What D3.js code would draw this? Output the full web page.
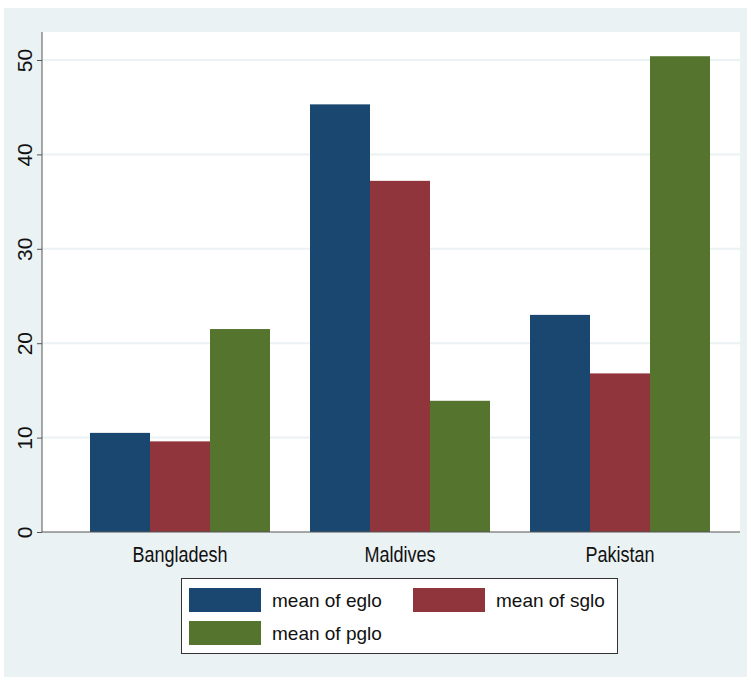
<!DOCTYPE html>
<html>
<head>
<meta charset="utf-8">
<script src="https://cdn.jsdelivr.net/npm/d3@7"></script>
<style>
  body { margin: 0; background: #fff; }
  text { font-family: "Liberation Sans", Arial, sans-serif; fill: #111; }
</style>
</head>
<body>
<svg id="chart"></svg>
<script>
// chart data
const countries = ["Bangladesh", "Maldives", "Pakistan"]
const seriesKeys = ["eglo", "sglo", "pglo"]
const seriesLabels = ["mean of eglo", "mean of sglo", "mean of pglo"]
const egloValues = [10.5, 45.3, 23.0]
const sgloValues = [9.6, 37.2, 16.8]
const pgloValues = [21.5, 13.9, 50.4]
const yTicks = [0, 10, 20, 30, 40, 50]

const colors = ["#1a476f", "#90353b", "#55752f"]

const rows = countries.map((c, i) => ({
    country: c,
    eglo: egloValues[i],
    sglo: sgloValues[i],
    pglo: pgloValues[i]
}))

const width = 751, height = 680
const plot = { left: 42, right: 740, top: 32, bottom: 532 }

const svg = d3.select('#chart')
    .attr('width', width)
    .attr('height', height)

// outer graph region
svg.append('rect')
    .attr('x', 4).attr('y', 8)
    .attr('width', 743).attr('height', 669)
    .attr('fill', '#eaf2f3')

// plot region
svg.append('rect')
    .attr('x', plot.left).attr('y', plot.top)
    .attr('width', plot.right - plot.left).attr('height', plot.bottom - plot.top)
    .attr('fill', '#fff')

const xScale = d3.scaleBand()
    .domain(countries)
    .range([70, 730])
    .paddingInner(40 / 220)
    .paddingOuter(20 / 220)

const xSub = d3.scaleBand()
    .domain(seriesKeys)
    .range([0, xScale.bandwidth()])

const yScale = d3.scaleLinear()
    .domain([0, 50])
    .range([plot.bottom, 60])

// gridlines
svg.append('g')
    .selectAll('line')
    .data(yTicks.filter(d => d > 0))
    .join('line')
        .attr('x1', plot.left).attr('x2', plot.right)
        .attr('y1', d => yScale(d)).attr('y2', d => yScale(d))
        .attr('stroke', '#eaf2f3')
        .attr('stroke-width', 2)

// bars
svg.append('g')
    .selectAll('g')
    .data(rows)
    .join('g')
        .attr('transform', d => `translate(${xScale(d.country)},0)`)
    .selectAll('rect')
    .data(d => seriesKeys.map((k, i) => ({ key: k, value: d[k], i: i })))
    .join('rect')
        .attr('x', d => xSub(d.key))
        .attr('width', xSub.bandwidth())
        .attr('y', d => yScale(d.value))
        .attr('height', d => yScale(0) - yScale(d.value))
        .attr('fill', d => colors[d.i])

// y axis
const yAxis = d3.axisLeft(yScale)
    .tickValues(yTicks)
    .tickSize(5)

const yAxisGroup = svg.append('g')
    .attr('transform', `translate(${plot.left},0)`)
    .call(yAxis)

yAxisGroup.select('.domain')
    .attr('d', `M0,${plot.top}V${plot.bottom}`)
    .attr('stroke', '#555')

yAxisGroup.selectAll('.tick line').attr('stroke', '#555')
yAxisGroup.selectAll('.tick text')
    .attr('font-size', 21)
    .attr('fill', '#111')
    .attr('font-family', '"Liberation Sans", Arial, sans-serif')
    .attr('text-anchor', 'middle')
    .attr('dy', 0)
    .attr('x', 0)
    .attr('transform', 'translate(-10,0) rotate(-90)')

// x axis
const xAxis = d3.axisBottom(xScale).tickSize(0).tickPadding(14)
const xAxisGroup = svg.append('g')
    .attr('transform', `translate(0,${plot.bottom})`)
    .call(xAxis)

xAxisGroup.select('.domain')
    .attr('d', `M${plot.left},0H${plot.right}`)
    .attr('stroke', '#555')

// labels look condensed in the original, no narrow font here so squeeze it
xAxisGroup.selectAll('.tick text')
    .attr('font-size', 22)
    .attr('fill', '#111')
    .attr('font-family', '"Liberation Sans", Arial, sans-serif')
    .attr('transform', 'scale(0.82,1)')

// legend
const legend = svg.append('g')
legend.append('rect')
    .attr('x', 181.5).attr('y', 578.5)
    .attr('width', 436).attr('height', 75)
    .attr('fill', '#fff')
    .attr('stroke', '#333')
    .attr('stroke-width', 1)

const legendPos = [
    { x: 189, y: 588 },
    { x: 413, y: 588 },
    { x: 189, y: 621 }
]

const items = legend.selectAll('.item')
    .data(seriesLabels)
    .join('g')
        .attr('class', 'item')
        .attr('transform', (d, i) => `translate(${legendPos[i].x},${legendPos[i].y})`)

items.append('rect')
    .attr('width', 72).attr('height', 24)
    .attr('fill', (d, i) => colors[i])

items.append('text')
    .attr('x', 83)
    .attr('y', 19)
    .attr('font-size', 19)
    .text(d => d)
</script>
</body>
</html>
